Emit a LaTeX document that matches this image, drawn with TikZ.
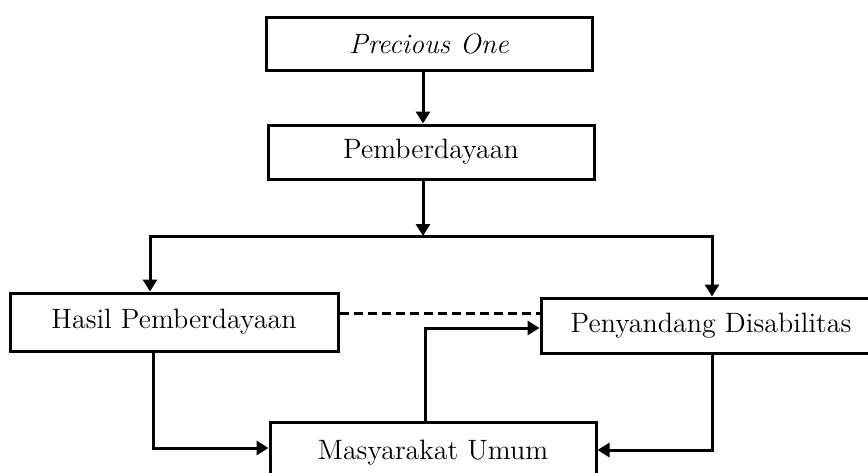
\documentclass[tikz,border=0pt]{standalone}
\usetikzlibrary{arrows.meta}
\begin{document}
\begin{tikzpicture}[x=0.5pt,y=-0.5pt,
  box/.style={draw, line width=1.5pt, rectangle, inner sep=0pt, font=\fontsize{14}{16}\selectfont},
  conn/.style={line width=1.5pt, line join=miter},
  arr/.style={conn, -{Triangle[length=6pt,width=7pt]}},
  dashconn/.style={line width=1.5pt, dash pattern=on 4.5pt off 2.5pt}]
\useasboundingbox (0,0) rectangle (868,472);
\node[box, minimum width=163pt, minimum height=26.5pt] (P1) at (429,43.5) {\itshape Precious One};
\node[box, minimum width=163pt, minimum height=27pt] (P2) at (431,152) {Pemberdayaan};
\node[box, minimum width=164pt, minimum height=29pt] (H) at (174,322) {Hasil Pemberdayaan};
\node[box, minimum width=170pt, minimum height=27.5pt] (D) at (711,325.5) {Penyandang Disabilitas};
\node[box, minimum width=163pt, minimum height=30.5pt] (M) at (433,452.5) {Masyarakat Umum};
\coordinate (j) at (423,236);
\coordinate (hl) at (150,236);
\coordinate (hr) at (712,236);
\coordinate (ha) at (153,448);
\coordinate (db) at (712,450);
\coordinate (mu) at (425,328);
\coordinate (dd) at (0,313);
\draw[arr] (P1.south -| j) -- (P2.north -| j);
\draw[arr] (P2.south -| j) -- (j);
\draw[arr] (hr) -| (hl |- H.north);
\draw[arr] (hl) -| (hr |- D.north);
\draw[arr] (ha |- H.south) |- (M.west |- ha);
\draw[arr] (db |- D.south) |- (M.east |- db);
\draw[arr] (mu |- M.north) |- (D.west |- mu);
\draw[dashconn] (H.east |- dd) -- (D.west |- dd);
\end{tikzpicture}
\end{document}
